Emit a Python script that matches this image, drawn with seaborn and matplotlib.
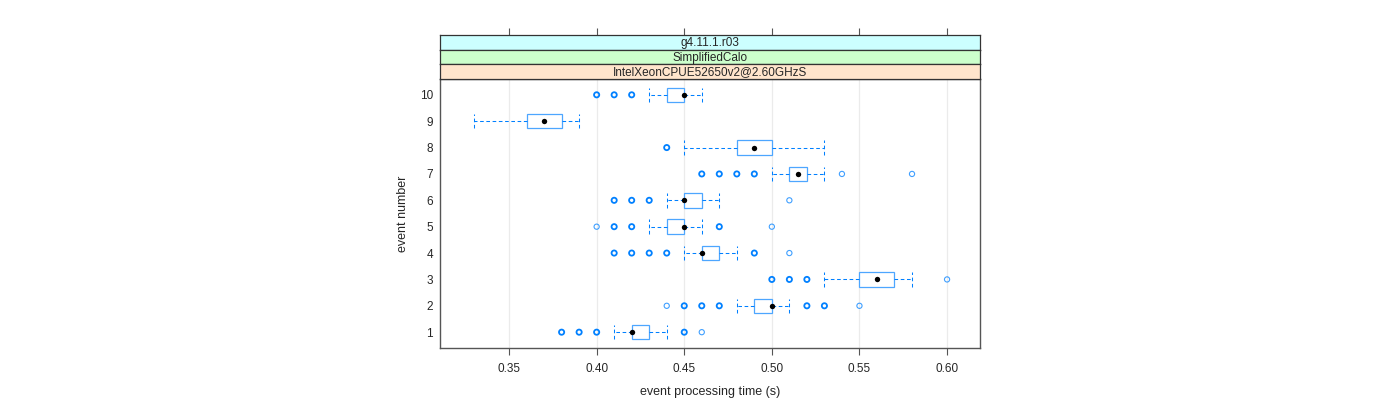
import matplotlib
matplotlib.use("Agg")
import matplotlib.pyplot as plt
import pandas as pd
import seaborn as sns

# box statistics per event (seconds)
events = [1, 2, 3, 4, 5, 6, 7, 8, 9, 10]
whis_lo = [0.41, 0.48, 0.53, 0.45, 0.43, 0.44, 0.50, 0.45, 0.33, 0.43]
q1 = [0.42, 0.49, 0.55, 0.46, 0.44, 0.45, 0.51, 0.48, 0.36, 0.44]
median = [0.42, 0.50, 0.56, 0.46, 0.45, 0.45, 0.515, 0.49, 0.37, 0.45]
q3 = [0.43, 0.50, 0.57, 0.47, 0.45, 0.46, 0.52, 0.50, 0.38, 0.45]
whis_hi = [0.44, 0.51, 0.58, 0.48, 0.46, 0.47, 0.53, 0.53, 0.39, 0.46]

# outliers: (event, value, several overlapping points?)
flier_event = [1, 1, 1, 1, 1,
               2, 2, 2, 2, 2, 2, 2,
               3, 3, 3, 3,
               4, 4, 4, 4, 4, 4,
               5, 5, 5, 5, 5,
               6, 6, 6, 6,
               7, 7, 7, 7, 7, 7,
               8,
               10, 10, 10]
flier_value = [0.38, 0.39, 0.40, 0.45, 0.46,
               0.44, 0.45, 0.46, 0.47, 0.52, 0.53, 0.55,
               0.50, 0.51, 0.52, 0.60,
               0.41, 0.42, 0.43, 0.44, 0.49, 0.51,
               0.40, 0.41, 0.42, 0.47, 0.50,
               0.41, 0.42, 0.43, 0.51,
               0.46, 0.47, 0.48, 0.49, 0.54, 0.58,
               0.44,
               0.40, 0.41, 0.42]
flier_many = [1, 1, 1, 1, 0,
              0, 1, 1, 1, 1, 1, 0,
              1, 1, 1, 0,
              1, 1, 1, 1, 1, 0,
              0, 1, 1, 1, 0,
              1, 1, 1, 0,
              1, 1, 1, 1, 0, 0,
              1,
              1, 1, 1]

x_ticks = [0.35, 0.40, 0.45, 0.50, 0.55, 0.60]
strip_labels = ["g4.11.1.r03", "SimplifiedCalo", "IntelXeonCPUE52650v2@2.60GHzS"]
strip_colors = ["#CCFFFF", "#CCFFCC", "#FFE5CC"]

sns.set_theme(style="white")
plt.rcParams["font.family"] = ["Liberation Sans", "DejaVu Sans"]

blue = "#0080ff"
frame = "#555555"
W, H = 1400, 400
fig = plt.figure(figsize=(14, 4), dpi=100)

left, right, top, bottom = 440, 980, 79, 348
ax = fig.add_axes([left / W, 1 - bottom / H, (right - left) / W, (bottom - top) / H])

stats = []
for i in range(len(events)):
    stats.append(dict(whislo=whis_lo[i], q1=q1[i], med=median[i], q3=q3[i],
                      whishi=whis_hi[i], fliers=[]))

ax.bxp(stats, positions=events, vert=False, widths=0.55, showfliers=False,
       patch_artist=True,
       boxprops=dict(facecolor="white", edgecolor="#4da6ff", linewidth=0.9),
       whiskerprops=dict(color=blue, linestyle=(0, (3.5, 2.5)), linewidth=0.75),
       capprops=dict(color=blue, linestyle=(0, (3.5, 2.5)), linewidth=0.75),
       medianprops=dict(linewidth=0), capwidths=0.55, zorder=2)

fl = pd.DataFrame({"event": flier_event, "value": flier_value, "many": flier_many})
for many, lw in [(1, 1.3), (0, 0.8)]:
    sub = fl[fl["many"] == many]
    sns.scatterplot(data=sub, x="value", y="event", ax=ax, marker="o", s=14,
                    facecolor="none", edgecolor=blue, linewidth=lw,
                    alpha=1.0 if many else 0.75, zorder=3, legend=False)

med = pd.DataFrame({"event": events, "median": median})
sns.scatterplot(data=med, x="median", y="event", ax=ax, color="black", s=15,
                edgecolor="black", linewidth=0, zorder=4, legend=False)

ax.set_xlim(0.3106, 0.6188)
ax.set_ylim(0.4, 10.6)
ax.set_xticks(x_ticks)
ax.set_xticklabels([f"{t:.2f}" for t in x_ticks], fontsize=8.5)
ax.set_yticks(events)
ax.set_yticklabels([str(e) for e in events], fontsize=8.5)
for t in x_ticks:
    ax.axvline(t, color="#ebebeb", linewidth=0.9, zorder=0)
ax.tick_params(axis="x", bottom=True, length=5, width=0.8, color=frame, pad=6)
ax.tick_params(axis="y", left=False, length=0, pad=5)
for s in ax.spines.values():
    s.set_color(frame)
    s.set_linewidth(1.0)
ax.set_xlabel("event processing time (s)", fontsize=9, labelpad=8)
ax.set_ylabel("event number", fontsize=9, labelpad=8)

# strips above the panel
edges = [35, 49.7, 64.2, 79]
for k, lab in enumerate(strip_labels):
    sax = fig.add_axes([left / W, 1 - edges[k + 1] / H, (right - left) / W,
                        (edges[k + 1] - edges[k]) / H])
    sax.set_facecolor(strip_colors[k])
    sax.set_xlim(ax.get_xlim())
    sax.set_ylim(0, 1)
    sax.set_yticks([])
    if k == 0:
        sax.set_xticks(x_ticks)
        sax.tick_params(axis="x", top=True, bottom=False, labeltop=False,
                        labelbottom=False, length=5, width=0.8, color=frame)
    else:
        sax.set_xticks([])
    for s in sax.spines.values():
        s.set_color("#333333")
        s.set_linewidth(0.9)
    sax.text(0.5, 0.45, lab, transform=sax.transAxes, ha="center", va="center",
             fontsize=8.5)

fig.savefig("out.png", dpi=100)
